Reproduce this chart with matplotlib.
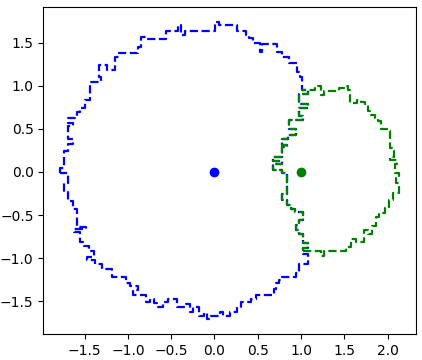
import numpy as np
import matplotlib
matplotlib.use("Agg")
import matplotlib.pyplot as plt
from matplotlib.ticker import MultipleLocator

# centres of the two regions
centers_x = [0.0, 1.0]
centers_y = [0.0, 0.0]

# blue boundary, left side -> over the top -> down to where it meets the green one
blue_top_x = [-1.782, -1.782, -1.736, -1.736, -1.690, -1.690, -1.632, -1.632, -1.690, -1.690,
              -1.632, -1.632, -1.690, -1.690, -1.586, -1.586, -1.551, -1.551, -1.493, -1.493,
              -1.435, -1.435, -1.308, -1.308, -1.331, -1.331, -1.238, -1.238, -1.146, -1.146,
              -1.100, -1.100, -0.880, -0.880, -0.845, -0.845, -0.775, -0.775, -0.556, -0.556,
              -0.417, -0.417, -0.382, -0.382, -0.336, -0.336, 0.012, 0.012, 0.058, 0.058,
              0.266, 0.266, 0.359, 0.359, 0.405, 0.405, 0.451, 0.451, 0.521, 0.521,
              0.544, 0.544, 0.718, 0.718, 0.775, 0.775, 0.856, 0.856, 0.949, 0.949,
              0.984, 0.984, 1.007]
blue_top_y = [-0.008, 0.050, 0.050, 0.248, 0.248, 0.329, 0.329, 0.387, 0.387, 0.527,
              0.527, 0.562, 0.562, 0.631, 0.631, 0.690, 0.690, 0.736, 0.736, 0.829,
              0.829, 1.038, 1.038, 1.097, 1.097, 1.236, 1.236, 1.178, 1.178, 1.329,
              1.329, 1.376, 1.376, 1.445, 1.445, 1.562, 1.562, 1.538, 1.538, 1.631,
              1.631, 1.701, 1.701, 1.585, 1.585, 1.631, 1.631, 1.736, 1.736, 1.701,
              1.701, 1.631, 1.631, 1.585, 1.585, 1.550, 1.550, 1.492, 1.492, 1.387,
              1.387, 1.480, 1.480, 1.387, 1.387, 1.329, 1.329, 1.259, 1.259, 1.155,
              1.155, 1.097, 1.097]

# boundary shared by both regions (top to bottom)
shared_x = [1.007, 1.076, 1.076, 0.972, 0.972, 1.076, 1.076, 0.972, 0.972, 1.019,
            1.019, 0.856, 0.856, 0.938, 0.938, 0.845, 0.845, 0.775, 0.775, 0.833,
            0.833, 0.775, 0.775, 0.671, 0.671, 0.775, 0.775, 0.671, 0.671, 0.775,
            0.775, 0.833, 0.833, 0.775, 0.775, 0.833, 0.833, 0.880, 0.880, 0.926,
            0.926, 1.019, 1.019, 0.972, 0.972, 0.938, 0.938, 0.972, 0.972, 1.019,
            1.019, 1.076, 1.076, 1.019, 1.019]
shared_y = [0.945, 0.945, 0.899, 0.899, 0.783, 0.783, 0.736, 0.736, 0.643, 0.643,
            0.597, 0.597, 0.503, 0.503, 0.434, 0.434, 0.387, 0.387, 0.317, 0.317,
            0.294, 0.294, 0.178, 0.178, 0.131, 0.131, 0.097, 0.097, 0.027, 0.027,
            -0.008, -0.008, -0.252, -0.252, -0.322, -0.322, -0.380, -0.380, -0.427, -0.427,
            -0.462, -0.462, -0.555, -0.555, -0.613, -0.613, -0.671, -0.671, -0.717, -0.717,
            -0.822, -0.822, -0.880, -0.880, -0.915]

# blue boundary, from the junction at the bottom round to the left side
blue_bot_x = [1.019, 1.076, 1.076, 0.972, 0.972, 0.938, 0.938, 0.775, 0.775, 0.741,
              0.741, 0.706, 0.706, 0.683, 0.683, 0.475, 0.475, 0.417, 0.417, 0.312,
              0.312, 0.266, 0.266, 0.174, 0.174, 0.104, 0.104, 0.069, 0.069, -0.035,
              -0.035, -0.081, -0.081, -0.116, -0.116, -0.174, -0.174, -0.243, -0.243, -0.278,
              -0.278, -0.324, -0.324, -0.428, -0.428, -0.532, -0.532, -0.590, -0.590, -0.648,
              -0.648, -0.694, -0.694, -0.741, -0.741, -0.787, -0.787, -0.938, -0.938, -0.880,
              -0.880, -0.972, -0.972, -1.019, -1.019, -1.181, -1.181, -1.296, -1.296, -1.377,
              -1.377, -1.470, -1.470, -1.389, -1.389, -1.447, -1.447, -1.505, -1.505, -1.551,
              -1.551, -1.620, -1.620, -1.481, -1.481, -1.586, -1.586, -1.632, -1.632, -1.690,
              -1.690, -1.736, -1.736, -1.690, -1.690, -1.782]
blue_bot_y = [-0.950, -0.950, -1.066, -1.066, -1.171, -1.171, -1.217, -1.217, -1.252, -1.252,
              -1.287, -1.287, -1.357, -1.357, -1.427, -1.427, -1.473, -1.473, -1.508, -1.508,
              -1.566, -1.566, -1.624, -1.624, -1.671, -1.671, -1.624, -1.624, -1.671, -1.671,
              -1.706, -1.706, -1.636, -1.636, -1.671, -1.671, -1.566, -1.566, -1.624, -1.624,
              -1.531, -1.531, -1.566, -1.566, -1.473, -1.473, -1.508, -1.508, -1.566, -1.566,
              -1.520, -1.520, -1.473, -1.473, -1.508, -1.508, -1.427, -1.427, -1.369, -1.369,
              -1.322, -1.322, -1.287, -1.287, -1.217, -1.217, -1.124, -1.124, -1.066, -1.066,
              -1.020, -1.020, -0.985, -0.985, -0.915, -0.915, -0.857, -0.857, -0.810, -0.810,
              -0.694, -0.694, -0.659, -0.659, -0.636, -0.636, -0.427, -0.427, -0.334, -0.334,
              -0.229, -0.229, -0.124, -0.124, -0.008, -0.008]

# green boundary, outer part (top junction -> right -> bottom junction)
green_x = [1.157, 1.157, 1.227, 1.227, 1.262, 1.262, 1.435, 1.435, 1.493, 1.493,
           1.539, 1.539, 1.562, 1.562, 1.644, 1.644, 1.690, 1.690, 1.736, 1.736,
           1.771, 1.771, 1.806, 1.806, 1.852, 1.852, 1.887, 1.887, 1.921, 1.921,
           1.991, 1.991, 2.025, 2.025, 2.072, 2.072, 2.025, 2.025, 2.106, 2.106,
           2.083, 2.083, 2.130, 2.130, 2.095, 2.095, 2.130, 2.130, 2.060, 2.060,
           2.014, 2.014, 1.968, 1.968, 1.898, 1.898, 1.863, 1.863, 1.817, 1.817,
           1.771, 1.771, 1.725, 1.725, 1.632, 1.632, 1.574, 1.574, 1.516, 1.516,
           1.262, 1.262, 1.227, 1.227, 1.019]
green_y = [0.945, 0.992, 0.992, 0.887, 0.887, 0.934, 0.934, 0.969, 0.969, 0.992,
           0.992, 0.945, 0.945, 0.794, 0.794, 0.829, 0.829, 0.806, 0.806, 0.783,
           0.783, 0.701, 0.701, 0.655, 0.655, 0.620, 0.620, 0.585, 0.585, 0.503,
           0.503, 0.469, 0.469, 0.283, 0.283, 0.178, 0.178, 0.143, 0.143, 0.097,
           0.097, -0.008, -0.008, -0.066, -0.066, -0.124, -0.124, -0.241, -0.241, -0.322,
           -0.322, -0.415, -0.415, -0.473, -0.473, -0.520, -0.520, -0.624, -0.624, -0.717,
           -0.717, -0.671, -0.671, -0.810, -0.810, -0.776, -0.776, -0.869, -0.869, -0.915,
           -0.915, -0.973, -0.973, -0.915, -0.915]

blue_x = blue_top_x + shared_x + blue_bot_x
blue_y = blue_top_y + shared_y + blue_bot_y
grn_x = shared_x[::-1] + green_x
grn_y = shared_y[::-1] + green_y

fig = plt.figure(figsize=(4.22, 3.6), dpi=100)
ax = fig.add_axes([0.1026, 0.0722, 0.8825, 0.9075])

ax.plot(blue_x, blue_y, 'b--', lw=1.6)
ax.plot(grn_x, grn_y, 'g--', lw=1.6)
ax.plot(centers_x[0], centers_y[0], 'bo')
ax.plot(centers_x[1], centers_y[1], 'go')
ax.set_aspect('equal', adjustable='datalim')
ax.xaxis.set_major_locator(MultipleLocator(0.5))
ax.yaxis.set_major_locator(MultipleLocator(0.5))

fig.savefig("out.png", dpi=100)
